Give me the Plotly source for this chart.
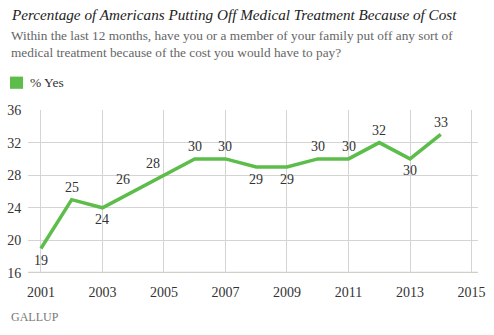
import plotly.graph_objects as go

years = [2001, 2002, 2003, 2004, 2005, 2006, 2007, 2008, 2009, 2010, 2011, 2012, 2013, 2014]
pct_yes = [19, 25, 24, 26, 28, 30, 30, 29, 29, 30, 30, 32, 30, 33]
# label placement: +1 above the line, -1 below; shifted-left labels marked in label_left
label_side = [-1, 1, -1, 1, 1, 1, 1, -1, -1, 1, 1, 1, -1, 1]
label_left = [0, 0, 0, 1, 1, 0, 0, 0, 0, 0, 0, 0, 0, 0]
x_ticks = [2001, 2003, 2005, 2007, 2009, 2011, 2013, 2015]
y_ticks = [16, 20, 24, 28, 32, 36]

GREEN = "#5dbd4b"
SERIF = "Liberation Serif"

fig = go.Figure()
fig.add_trace(go.Scatter(
    x=years, y=pct_yes, mode="lines", name="% Yes",
    line=dict(color=GREEN, width=3.5),
    showlegend=False,
))
for xv, yv, side, left in zip(years, pct_yes, label_side, label_left):
    fig.add_annotation(x=xv, y=yv, text=str(yv), showarrow=False,
                       xshift=-10.5 * left, yshift=12 * side,
                       xanchor="center", yanchor="middle",
                       font=dict(family=SERIF, size=14, color="#333333"))

fig.update_layout(
    width=494, height=335,
    margin=dict(l=28, r=16, t=110, b=62, autoexpand=False),
    paper_bgcolor="white", plot_bgcolor="white",
    font=dict(family=SERIF, color="#333333", size=12),
    xaxis=dict(range=[2000.58, 2015.21], tickvals=x_ticks, showgrid=True, automargin=False,
               gridcolor="#d4d4d4", gridwidth=1, zeroline=False, showline=False,
               ticks="outside", ticklen=6, tickcolor="rgba(0,0,0,0)",
               tickfont=dict(family=SERIF, size=14, color="#333333")),
    yaxis=dict(range=[16, 36], tickvals=y_ticks, showgrid=True, automargin=False,
               gridcolor="#d4d4d4", gridwidth=1, zeroline=False, showline=False,
               ticks="outside", ticklen=3, tickcolor="rgba(0,0,0,0)",
               tickfont=dict(family=SERIF, size=14, color="#333333")),
)
# baseline
fig.add_shape(type="line", xref="paper", yref="y", x0=0, x1=1, y0=16, y1=16,
              line=dict(color="#d0d0c8", width=2.5))

fig.add_annotation(text="<i>Percentage of Americans Putting Off Medical Treatment Because of Cost</i>",
                   xref="paper", yref="paper", x=0, xshift=-19, y=1, yshift=96,
                   xanchor="left", yanchor="middle", showarrow=False,
                   font=dict(family=SERIF, size=15.2, color="#222222"))
fig.add_annotation(text="Within the last 12 months, have you or a member of your family put off any sort of<br>medical treatment because of the cost you would have to pay?",
                   xref="paper", yref="paper", x=0, xshift=-19, y=1, yshift=84,
                   xanchor="left", yanchor="top", align="left", showarrow=False,
                   font=dict(family=SERIF, size=13.3, color="#666666"))
fig.add_shape(type="rect", xref="paper", yref="paper", x0=-0.04, x1=-0.011,
              y0=1.13, y1=1.205, fillcolor=GREEN, line=dict(width=0))
fig.add_annotation(text="% Yes", xref="paper", yref="paper", x=0, xshift=0, y=1, yshift=28,
                   xanchor="left", yanchor="middle", showarrow=False,
                   font=dict(family=SERIF, size=13.5, color="#333333"))
fig.add_annotation(text="GALLUP", xref="paper", yref="paper", x=0, xshift=-19, y=0, yshift=-44,
                   xanchor="left", yanchor="middle", showarrow=False,
                   font=dict(family=SERIF, size=12, color="#777777"))

fig.write_html("out.html")
